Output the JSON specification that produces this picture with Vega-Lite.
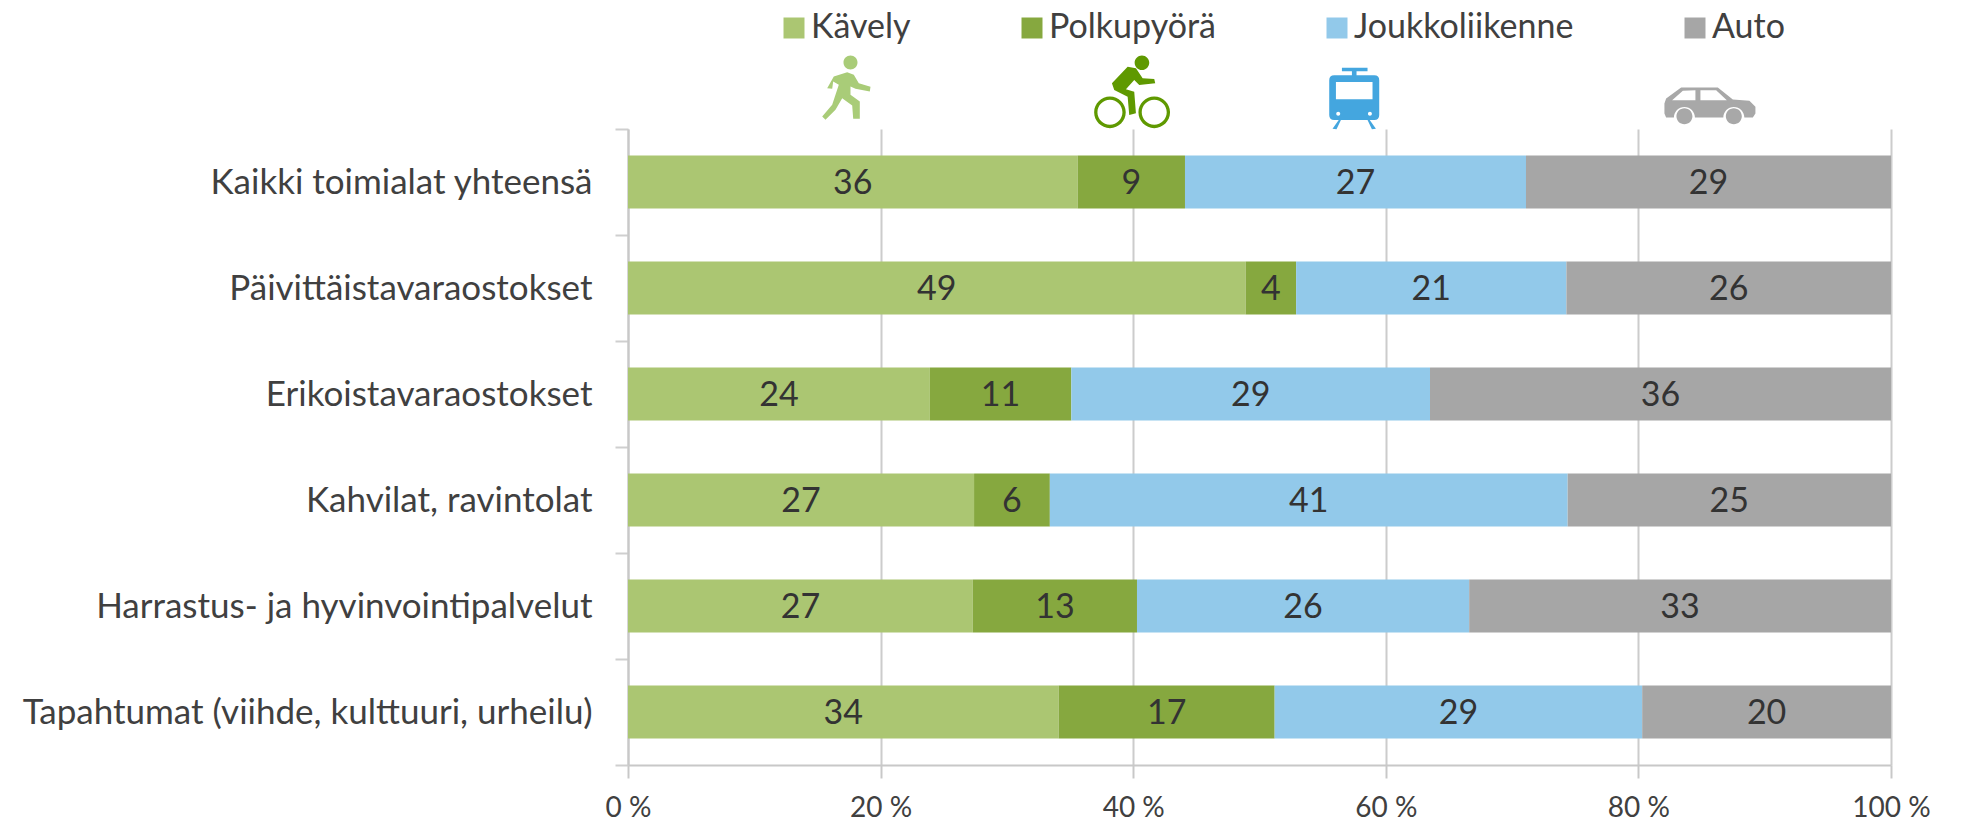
{
  "$schema": "https://vega.github.io/schema/vega-lite/v6.json",
  "autosize": "none",
  "width": 1263,
  "height": 636,
  "padding": {"left": 628, "top": 129, "right": 71, "bottom": 57},
  "background": "white",
  "config": {"view": {"stroke": null}, "font": "Lato", "text": {"font": "Lato"}},
  "datasets": {
    "shares": [
      {"category": "Kaikki toimialat yhteensä", "mode": "Kävely", "order": 1, "share": 35.6, "label": "36"},
      {"category": "Kaikki toimialat yhteensä", "mode": "Polkupyörä", "order": 2, "share": 8.5, "label": "9"},
      {"category": "Kaikki toimialat yhteensä", "mode": "Joukkoliikenne", "order": 3, "share": 27.0, "label": "27"},
      {"category": "Kaikki toimialat yhteensä", "mode": "Auto", "order": 4, "share": 28.9, "label": "29"},
      {"category": "Päivittäistavaraostokset", "mode": "Kävely", "order": 1, "share": 48.9, "label": "49"},
      {"category": "Päivittäistavaraostokset", "mode": "Polkupyörä", "order": 2, "share": 4.0, "label": "4"},
      {"category": "Päivittäistavaraostokset", "mode": "Joukkoliikenne", "order": 3, "share": 21.4, "label": "21"},
      {"category": "Päivittäistavaraostokset", "mode": "Auto", "order": 4, "share": 25.7, "label": "26"},
      {"category": "Erikoistavaraostokset", "mode": "Kävely", "order": 1, "share": 23.9, "label": "24"},
      {"category": "Erikoistavaraostokset", "mode": "Polkupyörä", "order": 2, "share": 11.2, "label": "11"},
      {"category": "Erikoistavaraostokset", "mode": "Joukkoliikenne", "order": 3, "share": 28.4, "label": "29"},
      {"category": "Erikoistavaraostokset", "mode": "Auto", "order": 4, "share": 36.5, "label": "36"},
      {"category": "Kahvilat, ravintolat", "mode": "Kävely", "order": 1, "share": 27.4, "label": "27"},
      {"category": "Kahvilat, ravintolat", "mode": "Polkupyörä", "order": 2, "share": 6.0, "label": "6"},
      {"category": "Kahvilat, ravintolat", "mode": "Joukkoliikenne", "order": 3, "share": 41.0, "label": "41"},
      {"category": "Kahvilat, ravintolat", "mode": "Auto", "order": 4, "share": 25.6, "label": "25"},
      {"category": "Harrastus- ja hyvinvointipalvelut", "mode": "Kävely", "order": 1, "share": 27.3, "label": "27"},
      {"category": "Harrastus- ja hyvinvointipalvelut", "mode": "Polkupyörä", "order": 2, "share": 13.0, "label": "13"},
      {"category": "Harrastus- ja hyvinvointipalvelut", "mode": "Joukkoliikenne", "order": 3, "share": 26.3, "label": "26"},
      {"category": "Harrastus- ja hyvinvointipalvelut", "mode": "Auto", "order": 4, "share": 33.4, "label": "33"},
      {"category": "Tapahtumat (viihde, kulttuuri, urheilu)", "mode": "Kävely", "order": 1, "share": 34.1, "label": "34"},
      {"category": "Tapahtumat (viihde, kulttuuri, urheilu)", "mode": "Polkupyörä", "order": 2, "share": 17.1, "label": "17"},
      {"category": "Tapahtumat (viihde, kulttuuri, urheilu)", "mode": "Joukkoliikenne", "order": 3, "share": 29.1, "label": "29"},
      {"category": "Tapahtumat (viihde, kulttuuri, urheilu)", "mode": "Auto", "order": 4, "share": 19.7, "label": "20"}
    ]
  },
  "resolve": {"scale": {"y": "independent"}},
  "layer": [
    {
      "data": {"name": "shares"},
      "encoding": {
        "y": {
          "field": "category",
          "type": "nominal",
          "sort": null,
          "title": null,
          "scale": {"paddingInner": 0, "paddingOuter": 0},
          "axis": {
            "tickBand": "extent",
            "tickExtra": true,
            "tickSize": 13,
            "tickWidth": 2,
            "tickColor": "#CFCFCF",
            "domainColor": "#C8C8C8",
            "domainWidth": 2,
            "labelFont": "Lato",
            "labelFontSize": 35,
            "labelColor": "#404040",
            "labelPadding": 23,
            "labelLimit": 700,
            "grid": false
          }
        }
      },
      "layer": [
        {
          "mark": {"type": "bar", "size": 53},
          "encoding": {
            "x": {
              "field": "share",
              "type": "quantitative",
              "stack": "zero",
              "title": null,
              "scale": {"domain": [0, 100], "nice": false},
              "axis": {
                "values": [0, 20, 40, 60, 80, 100],
                "labelExpr": "datum.value + ' %'",
                "labelFlush": false,
                "labelBound": false,
                "labelOverlap": false,
                "grid": true,
                "gridColor": "#CCCCCC",
                "gridWidth": 2,
                "tickColor": "#C8C8C8",
                "tickWidth": 2,
                "tickSize": 13,
                "domainColor": "#C8C8C8",
                "domainWidth": 2,
                "labelFont": "Lato",
                "labelFontSize": 28,
                "labelColor": "#404040",
                "labelPadding": 16
              }
            },
            "order": {"field": "order", "type": "ordinal"},
            "color": {
              "field": "mode",
              "type": "nominal",
              "title": null,
              "scale": {
                "domain": ["Kävely", "Polkupyörä", "Joukkoliikenne", "Auto"],
                "range": ["#ABC672", "#86A83F", "#92C9EA", "#A6A6A6"]
              },
              "legend": {
                "orient": "none",
                "legendX": 149,
                "legendY": -118,
                "direction": "horizontal",
                "columns": 4,
                "symbolType": "square",
                "symbolSize": 441,
                "symbolStrokeWidth": 0,
                "labelFont": "Lato",
                "labelFontSize": 34,
                "labelColor": "#404040",
                "labelOffset": 0,
                "columnPadding": 104,
                "labelLimit": 400
              }
            }
          }
        },
        {
          "mark": {"type": "text", "font": "Lato", "fontSize": 34, "color": "#333333", "baseline": "middle", "align": "center", "dy": 2},
          "encoding": {
            "x": {"field": "share", "type": "quantitative", "stack": "zero", "bandPosition": 0.5},
            "order": {"field": "order", "type": "ordinal"},
            "detail": {"field": "mode"},
            "text": {"field": "label", "type": "nominal"}
          }
        }
      ]
    },
    {
      "data": {"values": [{"mode": "Kävely"}, {"mode": "Polkupyörä"}, {"mode": "Joukkoliikenne"}, {"mode": "Auto"}]},
      "encoding": {
        "y": {"type": "quantitative", "scale": {"domain": [0, 1]}, "axis": null}
      },
      "layer": [
        {
          "transform": [{"filter": "datum.mode === 'Kävely'"}],
          "mark": {"type": "point", "filled": true, "size": 4, "opacity": 1, "color": "#A9CC78", "shape": "M-19.3,-0.3L-12.7,-12L0.7,-16.3L7.3,-13.7L12.3,-5.3L24,-1.7L23.3,3L9,0.3L4,-2L4,6.3L13.3,13L13.3,30.3L6.7,30.3L5.7,17L-4.3,9.7L-11,21.3L-21,31.3L-24.3,28L-14.3,16.3L-7.7,-3.7L-13.3,-7L-14.3,0.3ZM-3,-26a7,7 0 1,0 14,0a7,7 0 1,0 -14,0Z"},
          "encoding": {"x": {"datum": 17.3, "title": null}, "y": {"datum": 1.0637}}
        },
        {
          "transform": [{"filter": "datum.mode === 'Polkupyörä'"}],
          "mark": {"type": "point", "filled": true, "size": 4, "opacity": 1, "color": "#5F9900", "shape": "M-20,-7.7L-4.3,-24.3L4,-22.7L10.7,-12.7L22.3,-12L23.3,-7.7L7.3,-6L2.3,-11L-6,-1.7L2.3,0.7L4,22.3L-2.7,24L-4.3,5.7L-17.7,-1ZM2.7,-28.3a7.3,7.3 0 1,0 14.6,0a7.3,7.3 0 1,0 -14.6,0ZM-37.8,21.3a15.8,15.8 0 1,1 31.6,0a15.8,15.8 0 1,1 -31.6,0ZM-34.5,21.3a12.5,12.5 0 1,0 25,0a12.5,12.5 0 1,0 -25,0ZM6.5,21.3a15.8,15.8 0 1,1 31.6,0a15.8,15.8 0 1,1 -31.6,0ZM9.8,21.3a12.5,12.5 0 1,0 25,0a12.5,12.5 0 1,0 -25,0Z"},
          "encoding": {"x": {"datum": 39.9, "title": null}, "y": {"datum": 1.0597}}
        },
        {
          "transform": [{"filter": "datum.mode === 'Joukkoliikenne'"}],
          "mark": {"type": "point", "filled": true, "size": 4, "opacity": 1, "color": "#44A6DF", "shape": "M-12.3,-30.3L13.3,-30.3L13.3,-26.7L2.3,-26.7L2.3,-21L-2.3,-21L-2.3,-26.7L-12.3,-26.7ZM-20,-22.7L20,-22.7Q25,-22.7 25,-17.7L25,17Q25,22 20,22L15.5,22L21.7,30.7L17.7,31.3L13.3,22L-13.3,22L-17.7,31.3L-21.7,30.7L-15.5,22L-20,22Q-25,22 -25,17L-25,-17.7Q-25,-22.7 -20,-22.7ZM-18.3,-16L-18.3,1.3L18.3,1.3L18.3,-16ZM-18,15.7a2,2 0 1,0 4,0a2,2 0 1,0 -4,0ZM13.7,15.7a2,2 0 1,0 4,0a2,2 0 1,0 -4,0Z"},
          "encoding": {"x": {"datum": 57.5, "title": null}, "y": {"datum": 1.0487}}
        },
        {
          "transform": [{"filter": "datum.mode === 'Auto'"}],
          "mark": {"type": "point", "filled": true, "size": 4, "opacity": 1, "color": "#A8A8A8", "shape": "M-44.7,-2L-43,-7L-28,-18L8.7,-18L23.7,-6L40.3,-4.7L46.3,1.3L46.3,8L43.7,12L35.2,12A10.5,10.5 0 0,0 14.2,12L-14.2,12A10.5,10.5 0 0,0 -35.2,12L-43,12L-44.7,8ZM-37,-5.3L-13.7,-5.3L-13.7,-15.3L-26.3,-14.7ZM-8.7,-5.3L17.7,-5.3L7,-15.3L-8.7,-15.3ZM-32.7,10.7a8,8 0 1,0 16,0a8,8 0 1,0 -16,0ZM16.7,10.7a8,8 0 1,0 16,0a8,8 0 1,0 -16,0Z"},
          "encoding": {"x": {"datum": 85.6, "title": null}, "y": {"datum": 1.037}}
        }
      ]
    }
  ]
}
